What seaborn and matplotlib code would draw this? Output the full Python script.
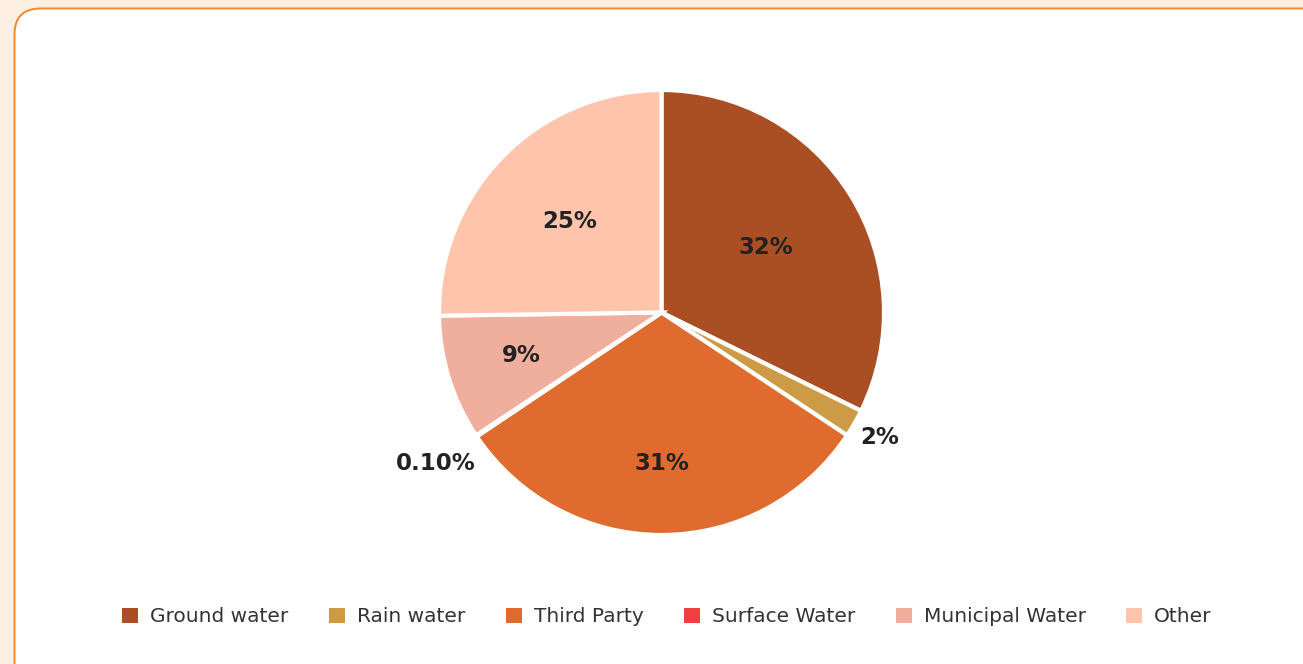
import numpy as np
import matplotlib
matplotlib.use("Agg")
import matplotlib.pyplot as plt
from matplotlib.patches import FancyBboxPatch, Patch
from matplotlib.transforms import IdentityTransform
import seaborn as sns

# Water withdrawal by source (percent)
sources = ["Ground water", "Rain water", "Third Party", "Surface Water",
           "Municipal Water", "Other"]
shares = [32, 2, 31, 0.1, 9, 25]
colors = ["#A94F23", "#CD9A45", "#DF6B2E", "#EE4040", "#F0AE9C", "#FEC4AC"]

sns.set_theme(style="white")
plt.rcParams["font.family"] = ["DejaVu Sans"]

W, H, DPI = 1303, 664, 100
fig = plt.figure(figsize=(W / DPI, H / DPI), dpi=DPI, facecolor="#FDEFE2")

# white rounded card with orange outline (pixel coordinates)
card = FancyBboxPatch((14.5, -30), 1320, 664 - 8.5 + 30,
                      boxstyle="round,pad=0,rounding_size=26",
                      transform=IdentityTransform(),
                      facecolor="white", edgecolor="#F5872E", linewidth=1.4,
                      zorder=-5)
fig.patches.append(card)

# pie axes: centre (661.5, 312.5) px from top, radius 222.5 px
cx, cy, r = 661.5, H - 312.5, 222.5
ax = fig.add_axes([(cx - r) / W, (cy - r) / H, 2 * r / W, 2 * r / H])
ax.set_facecolor("none")
ax.set_zorder(2)

palette = sns.color_palette(colors)
wedges, _ = ax.pie(shares, colors=palette, startangle=90, counterclock=False,
                   radius=1.0,
                   wedgeprops=dict(edgecolor="white", linewidth=3))
ax.set_xlim(-1, 1)
ax.set_ylim(-1, 1)
ax.set_aspect("equal")
ax.axis("off")

# label distance from centre for each slice (fraction of radius)
label_dist = [0.55, 1.13, 0.68, 1.22, 0.66, 0.58]
for val, w, d in zip(shares, wedges, label_dist):
    mid = np.deg2rad((w.theta1 + w.theta2) / 2)
    txt = f"{val:.2f}%" if val < 1 else f"{val:.0f}%"
    ax.text(d * np.cos(mid), d * np.sin(mid), txt, ha="center", va="center",
            fontsize=16.5, fontweight="bold", color="#222222")

handles = [Patch(facecolor=c, edgecolor="none") for c in colors]
leg = fig.legend(handles, sources, loc="center", ncol=6,
                 bbox_to_anchor=(667 / W, 47 / H), frameon=False,
                 fontsize=14.5, handlelength=0.8, handleheight=0.8,
                 handletextpad=0.6, columnspacing=2.0)
for t in leg.get_texts():
    t.set_color("#333333")

fig.savefig("out.png", dpi=DPI, facecolor=fig.get_facecolor())
